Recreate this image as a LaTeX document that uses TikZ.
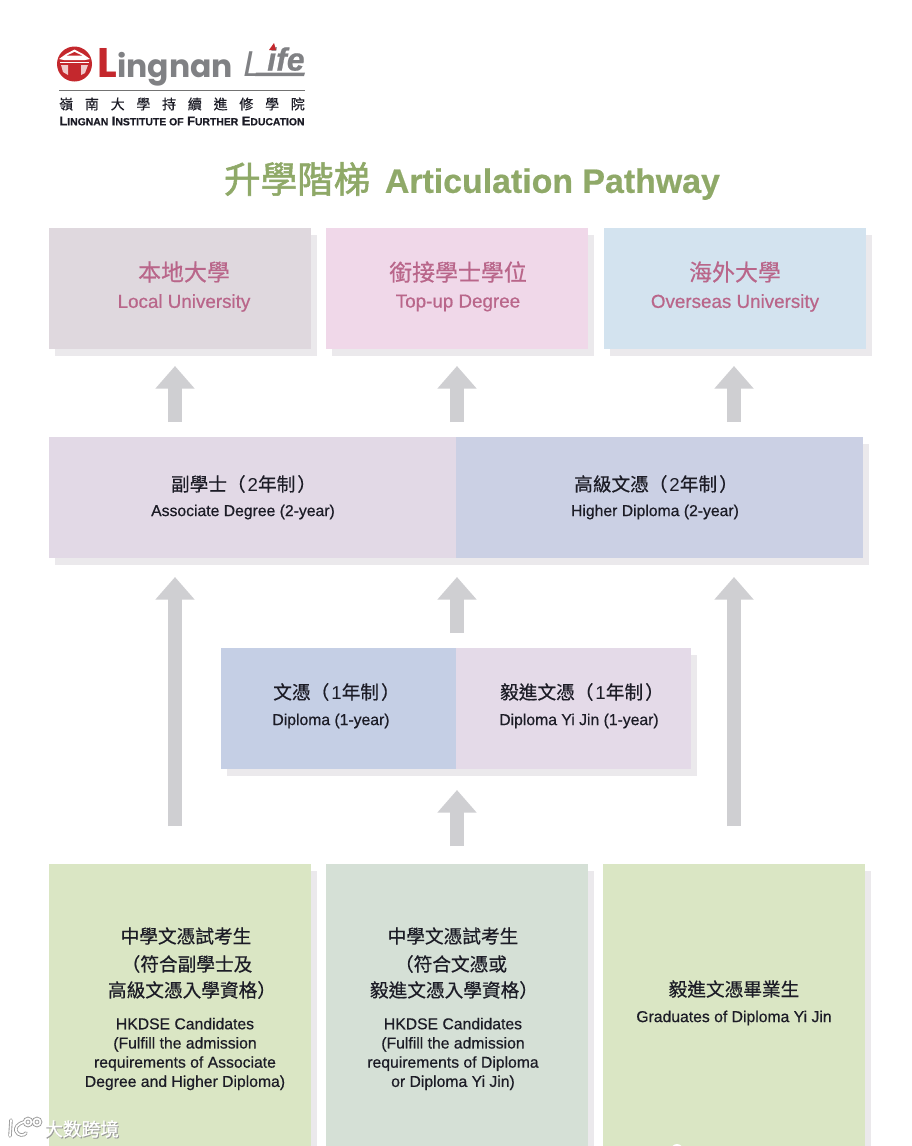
\documentclass[tikz,border=0pt]{standalone}
\usepackage{fontspec}
\setmainfont{Liberation Sans}[FakeBold=0.6]
\newfontfamily\plainf{Liberation Sans}
\newfontfamily\cjk{Noto Sans CJK TC}[FakeBold=0.5]
\newfontfamily\cjkb{Noto Sans CJK TC}[FakeBold=1.5]
\newfontfamily\logof{Poppins}
\usetikzlibrary{arrows.meta}
\definecolor{ablk}{HTML}{1C1C26}
\definecolor{arrowc}{HTML}{CFCFD2}
\definecolor{rose}{HTML}{B9668A}
\definecolor{titleg}{HTML}{8FA968}
\definecolor{lred}{HTML}{C4282D}
\definecolor{lgray}{HTML}{808184}
\definecolor{shadowc}{HTML}{EBE9EC}
\definecolor{wmgray}{HTML}{9A9A9A}
\definecolor{cLocal}{HTML}{DFD8DE}
\definecolor{cTop}{HTML}{F0D8E9}
\definecolor{cOver}{HTML}{D3E3EF}
\definecolor{cAssoc}{HTML}{E2D9E6}
\definecolor{cHigher}{HTML}{CBD0E4}
\definecolor{cDip}{HTML}{C5CFE5}
\definecolor{cYi}{HTML}{E4DAE8}
\definecolor{cGreen}{HTML}{DAE6C4}
\definecolor{cGrey}{HTML}{D5E0D6}
\newcommand{\fs}[2]{\fontsize{#1}{#2}\selectfont}
\newcommand{\dg}[1]{\hspace{1.5pt}{\plainf #1}}
\newcommand{\cl}{\hspace{1.5pt}）}
\tikzset{
 x=0.75pt,y=-0.75pt,
 panel/.style={anchor=north west,inner sep=0,outer sep=0,draw=none},
 wide/.style={panel,minimum width=196.5pt,minimum height=90.75pt},
 tall/.style={panel,minimum width=196.5pt,minimum height=211.5pt},
 bigarrow/.style={line width=10.5pt,draw=arrowc,-{Triangle[width=28.5pt,length=17pt]}},
 rosecn/.style={inner sep=0,text=rose,font=\cjk\fs{17.2}{20}},
 roseen/.style={inner sep=0,text=rose,font=\fs{14.1}{16}},
 blkcn/.style={inner sep=0,text=ablk,font=\cjk\fs{14}{18}},
 blken/.style={inner sep=0,text=ablk,font=\fs{11.8}{14.4},align=center},
 wmtext/.style={anchor=west,inner sep=0,font=\plainf\cjk\fs{14}{16}},
}
\newcommand{\boxshadow}[4]{\fill[shadowc] (#1+6,#2+7) rectangle (#3+6,#4+7);}
\begin{document}
\begin{tikzpicture}
\useasboundingbox (0,0) rectangle (912,1146);
\fill[white] (0,0) rectangle (912,1146);
% logo
\fill[lred] (74.5,64) circle (17.5);
\fill[white] (59,59) -- (66,54) -- (74.5,49.5) -- (83,54) -- (90,59) -- (85,60) -- (64,60) -- cycle;
\fill[lred] (67,55.5) -- (74.5,52) -- (82,55.5) -- cycle;
\fill[white] (60,61.5) rectangle (89,63);
\fill[white!75!lred] (61,65) -- (68,65) -- (68,75) -- (63,72) -- cycle;
\fill[white!75!lred] (81,65) -- (88,65) -- (85,73) -- (81,75) -- cycle;
\node[anchor=base west,inner sep=0,text=lred,font=\logof\bfseries\fs{31}{34}] (logoL) at (97,77) {L};
\node[anchor=base west,inner sep=0,text=lgray,font=\logof\bfseries\fs{23.6}{30}] (logoName) at (117,77) {ingnan};
\node[anchor=base west,inner sep=0,text=lgray,font=\plainf\itshape\fs{27}{30}] (logoLifeL) at (243,76) {L};
\node[anchor=base west,inner sep=0,text=lgray,font=\bfseries\itshape\fs{24}{26}] (logoLife) at (267,70.5) {ife};
\fill[lgray] (256,72.5) -- (305,72.5) -- (304,76) -- (255,76) -- cycle;
\fill[lred] (269,50) -- (274,43) -- (276,50) -- cycle;
\draw[black!55,line width=.6pt] (59,90) -- (305,90);
\node[inner sep=0,font=\cjk\fs{10.5}{13},text=ablk] (logoCn) at (182,104) {嶺\hspace{8.8pt}南\hspace{8.8pt}大\hspace{8.8pt}學\hspace{8.8pt}持\hspace{8.8pt}續\hspace{8.8pt}進\hspace{8.8pt}修\hspace{8.8pt}學\hspace{8.8pt}院};
\node[inner sep=0,font=\bfseries\fs{9.6}{10},text=ablk] (logoEn) at (182,121) {L{\fs{7.8}{10}INGNAN} I{\fs{7.8}{10}NSTITUTE OF} F{\fs{7.8}{10}URTHER} E{\fs{7.8}{10}DUCATION}};
% title
\node[inner sep=0,text=titleg] (title) at (472,181) {{\cjkb\fs{27.4}{30}升學階梯}\hspace{11pt}{\bfseries\fs{25.4}{30}Articulation Pathway}};
% shadows
\boxshadow{49}{228}{311}{349}
\boxshadow{326}{228}{588}{349}
\boxshadow{604}{228}{866}{349}
\boxshadow{49}{437}{863}{558}
\boxshadow{221}{648}{691}{769}
\boxshadow{49}{864}{311}{1146}
\boxshadow{326}{864}{588}{1146}
\boxshadow{603}{864}{865}{1146}
% top row
\node[wide,fill=cLocal] (local) at (49,228) {};
\node[wide,fill=cTop] (topup) at (326,228) {};
\node[wide,fill=cOver] (over) at (604,228) {};
\node[rosecn] (localC) at (184,272) {本地大學};
\node[roseen] (localE) at (184,303) {Local University};
\node[rosecn] (topC) at (458,272) {銜接學士學位};
\node[roseen] (topE) at (458,303) {Top-up Degree};
\node[rosecn] (overC) at (735,272) {海外大學};
\node[roseen] (overE) at (735,303) {Overseas University};
% second row
\node[panel,fill=cAssoc,minimum width=305.25pt,minimum height=90.75pt] (assoc) at (49,437) {};
\node[panel,fill=cHigher,minimum width=305.25pt,minimum height=90.75pt] (higher) at (456,437) {};
\node[blkcn] (assocC) at (243.5,484) {副學士（\dg{2}年制\cl};
\node[blken] (assocE) at (243,512) {Associate Degree (2-year)};
\node[blkcn] (highC) at (656,484) {高級文憑（\dg{2}年制\cl};
\node[blken] (highE) at (655,512) {Higher Diploma (2-year)};
% third row
\node[panel,fill=cDip,minimum width=176.25pt,minimum height=90.75pt] (dip) at (221,648) {};
\node[panel,fill=cYi,minimum width=176.25pt,minimum height=90.75pt] (yi) at (456,648) {};
\node[blkcn] (dipC) at (336.5,692) {文憑（\dg{1}年制\cl};
\node[blken] (dipE) at (331,721) {Diploma (1-year)};
\node[blkcn] (yiC) at (582,692) {毅進文憑（\dg{1}年制\cl};
\node[blken] (yiE) at (579,721) {Diploma Yi Jin (1-year)};
% bottom row
\node[tall,fill=cGreen] (b1) at (49,864) {};
\node[tall,fill=cGrey] (b2) at (326,864) {};
\node[tall,fill=cGreen] (b3) at (603,864) {};
\node[blkcn] (b1c1) at (186,936) {中學文憑試考生};
\node[blkcn] (b1c2) at (187,964) {（符合副學士及};
\node[blkcn] (b1c3) at (192,990) {高級文憑入學資格）};
\node[blken] (b1e) at (185,1054) {HKDSE Candidates\\(Fulfill the admission\\requirements of Associate\\Degree and Higher Diploma)};
\node[blkcn] (b2c1) at (453,936) {中學文憑試考生};
\node[blkcn] (b2c2) at (451,964) {（符合文憑或};
\node[blkcn] (b2c3) at (454,990) {毅進文憑入學資格）};
\node[blken] (b2e) at (453,1054) {HKDSE Candidates\\(Fulfill the admission\\requirements of Diploma\\or Diploma Yi Jin)};
\node[blkcn] (b3c1) at (734,989) {毅進文憑畢業生};
\node[blken] (b3e) at (734,1018) {Graduates of Diploma Yi Jin};
% arrow ends
\coordinate (a1s) at (175,422); \coordinate (a1e) at (175,366);
\coordinate (a2s) at (457,422); \coordinate (a2e) at (457,366);
\coordinate (a3s) at (734,422); \coordinate (a3e) at (734,366);
\coordinate (a4s) at (175,826); \coordinate (a4e) at (175,577);
\coordinate (a5s) at (457,633); \coordinate (a5e) at (457,577);
\coordinate (a6s) at (734,826); \coordinate (a6e) at (734,577);
\coordinate (a7s) at (457,846); \coordinate (a7e) at (457,790);
\foreach \n in {1,...,7} {\draw[bigarrow] (a\n s) -- (a\n e);}
% watermark
\node[wmtext,text=wmgray] (wmS) at (45,1130) {大数跨境};
\node[wmtext,text=white] (wm) at (44,1129) {大数跨境};
\foreach \c/\w in {wmgray/2.6pt,white/1.3pt}{
 \draw[\c,line width=\w,line cap=round] (11,1120) -- (10,1136);
 \draw[\c,line width=\w,line cap=round] (24,1122) .. controls (17,1124) and (15,1128) .. (16,1131) .. controls (18,1136) and (24,1136) .. (26,1133);
 \draw[\c,line width=\w] (28,1122) circle (3.5) (37,1122) circle (3.5);
}
\fill[white] (677,1150) circle (6);
\end{tikzpicture}
\end{document}
